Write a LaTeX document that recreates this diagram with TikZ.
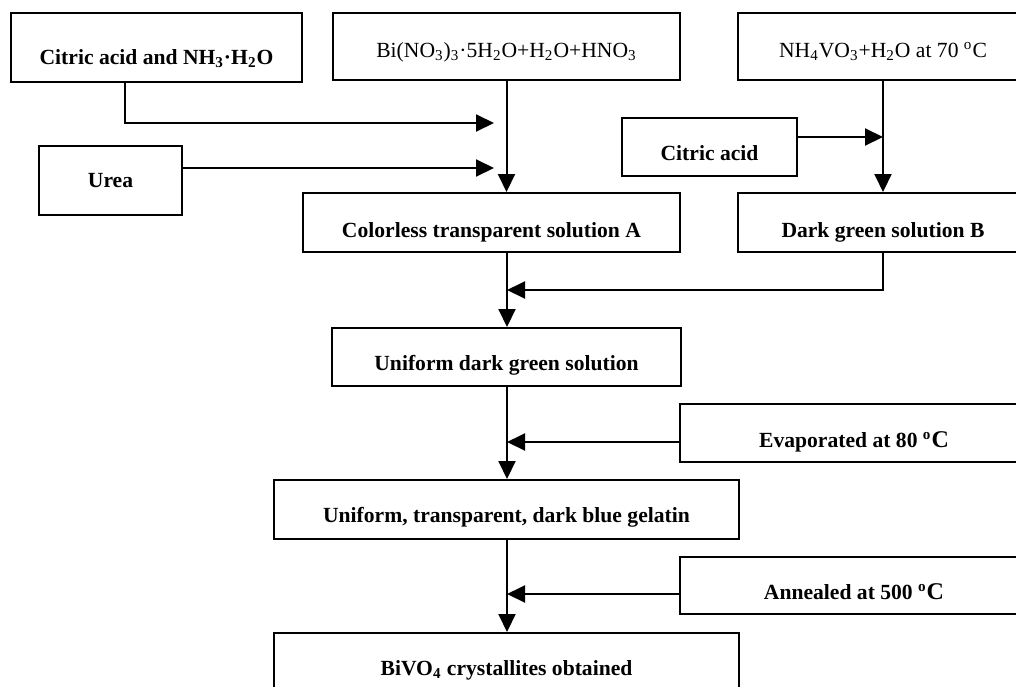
\documentclass[tikz,border=0pt]{standalone}
\usepackage{fontspec}
\setmainfont{Liberation Serif}
\usetikzlibrary{arrows.meta}
\begin{document}
\begin{tikzpicture}[x=0.5pt,y=-0.5pt,
  box/.style={draw, line width=1pt, rectangle, inner sep=0pt},
  txtb/.style={anchor=base, inner sep=0pt, font=\fontsize{10.8}{13}\selectfont\bfseries},
  txtr/.style={anchor=base, inner sep=0pt, font=\fontsize{10.8}{13}\selectfont},
  conn/.style={line width=1pt},
  arr/.style={line width=1pt, -{Triangle[length=9pt,width=8.5pt]}}]
\useasboundingbox (0,0) rectangle (1016,686);
\clip (0,0) rectangle (1016,686);
% boxes
\node[box, minimum width=145.5pt, minimum height=34.5pt] (b1) at (156.5,47.5) {};
\node[box, minimum width=173.5pt, minimum height=33.5pt] (b2) at (506.5,46.5) {};
\node[box, minimum width=145pt, minimum height=33.5pt] (b3) at (883,46.5) {};
\node[box, minimum width=71.5pt, minimum height=34.5pt] (urea) at (110.5,180.5) {};
\node[box, minimum width=87.5pt, minimum height=29pt] (cit) at (709.5,147) {};
\node[box, minimum width=188.5pt, minimum height=29.5pt] (solA) at (491.5,222.5) {};
\node[box, minimum width=145pt, minimum height=29.5pt] (solB) at (883,222.5) {};
\node[box, minimum width=174.5pt, minimum height=29pt] (uni) at (506.5,357) {};
\node[box, minimum width=174pt, minimum height=29pt] (evap) at (854,433) {};
\node[box, minimum width=232.5pt, minimum height=29.5pt] (gel) at (506.5,509.5) {};
\node[box, minimum width=174pt, minimum height=28.5pt] (ann) at (854,585.5) {};
\node[box, minimum width=232.5pt, minimum height=31pt] (bivo) at (506.5,664) {};
% texts
\node[txtb] (t1) at (156.5,64) {Citric acid and NH\textsubscript{3}·H\textsubscript{2}O};
\node[txtr] (t2) at (506.5,57) {Bi(NO\textsubscript{3})\textsubscript{3}·5H\textsubscript{2}O+H\textsubscript{2}O+HNO\textsubscript{3}};
\node[txtr] (t3) at (883,57) {NH\textsubscript{4}VO\textsubscript{3}+H\textsubscript{2}O at 70 \textsuperscript{o}C};
\node[txtb] (t4) at (110.5,187) {Urea};
\node[txtb] (t5) at (709.5,160) {Citric acid};
\node[txtb] (t6) at (491.5,237) {Colorless transparent solution A};
\node[txtb] (t7) at (883,237) {Dark green solution B};
\node[txtb] (t8) at (506.5,370) {Uniform dark green solution};
\node[txtb] (t9) at (854,447) {Evaporated at 80 \textsuperscript{o}{\large C}};
\node[txtb] (t10) at (506.5,522) {Uniform, transparent, dark blue gelatin};
\node[txtb] (t11) at (854,599) {Annealed at 500 \textsuperscript{o}{\large C}};
\node[txtb] (t12) at (506.5,675) {BiVO\textsubscript{4} crystallites obtained};
% helper coordinates
\coordinate (k1) at (125,123);
\coordinate (e1) at (494,123);
\coordinate (e2) at (494,168);
\coordinate (j1) at (883,137);
\coordinate (k2) at (883,290);
\coordinate (j2) at (507,290);
\coordinate (j3) at (507,442);
\coordinate (j4) at (507,594);
% connectors
\draw[arr] (b1.south -| k1) |- (e1);
\draw[arr] (urea.east |- e2) -- (e2);
\draw[arr] (b2.south) -- (b2.south |- solA.north);
\draw[arr] (cit.east |- j1) -- (j1);
\draw[arr] (b3.south) -- (solB.north);
\draw[arr] (solB.south) |- (j2);
\draw[arr] (solA.south -| j2) -- (uni.north -| j2);
\draw[arr] (evap.west |- j3) -- (j3);
\draw[arr] (uni.south -| j3) -- (gel.north -| j3);
\draw[arr] (ann.west |- j4) -- (j4);
\draw[arr] (gel.south -| j4) -- (bivo.north -| j4);
\end{tikzpicture}
\end{document}
